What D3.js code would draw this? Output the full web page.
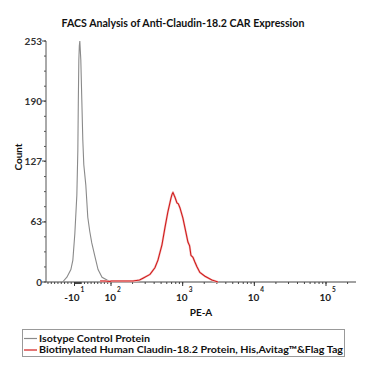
<!DOCTYPE html>
<html><head><meta charset="utf-8">
<script src="https://cdn.jsdelivr.net/npm/d3@7"></script>
<style>body{margin:0;background:#fff}svg{display:block}text{font-family:Lato,"Open Sans",sans-serif}</style>
</head><body>
<svg id="c" width="378" height="378"></svg>
<script>
// ---- data ----
const title = "FACS Analysis of Anti-Claudin-18.2 CAR Expression";
const xLabel = "PE-A";
const yLabel = "Count";
const yTicks = [0, 63, 127, 190, 253];
const xTickValues = [-10, 100, 1000, 10000, 100000];
const xTickBase = ["-10", "10", "10", "10", "10"];
const xTickExp = ["1", "2", "3", "4", "5"];
const seriesNames = ["Isotype Control Protein", "Biotinylated Human Claudin-18.2 Protein, His,Avitag\u2122&Flag Tag"];
const seriesColors = ["#8a8a8a", "#d01c1c"];
// isotype control histogram (PE-A value, count)
const isoPE =    [-46, -33, -21, -15, -9, -3, 0, 1.5, 3, 4.5, 6, 9, 12, 15, 18, 24, 30, 36, 42, 52, 61, 73, 88, 103];
const isoCount = [0, 5, 13, 23, 51, 91, 138, 191, 233, 248, 253, 233, 191, 149, 123, 102, 68, 53, 41, 26, 13, 5, 2, 0];
// Claudin-18.2 stained histogram
const cldPE =    [67, 82, 97, 100, 150, 203, 250, 279, 350, 410, 452, 514, 566, 623, 687, 710, 732, 760, 781, 832, 870, 915, 1008, 1110, 1184, 1250, 1304, 1391, 1480, 1582, 1738, 2048, 2560, 3110];
const cldCount = [1, 1, 0.5, 1, 1, 1, 2, 4, 8, 15, 23, 39, 57, 74, 88, 92, 94, 91, 89, 83, 82, 78, 67, 52, 42, 38, 28, 26, 21, 16, 10, 6, 2, 0];

// ---- layout ----
const svg = d3.select("#c");
const L = 46, R = 356, T = 41, B = 282;
const linMin = -96, linMax = 100, xMax = 262144;
const split = 111;
const xLinS = d3.scaleLinear().domain([linMin, linMax]).range([L, split]);
const xLogS = d3.scaleLog().domain([linMax, xMax]).range([split, R]);
const x = v => v < linMax ? xLinS(v) : xLogS(v);
const y = d3.scaleLinear().domain([0, 253]).range([B, T]);

// title
svg.append("text").attr("x", 183).attr("y", 27).attr("text-anchor", "middle")
  .attr("font-size", 10.6).attr("font-weight", "bold").attr("fill", "#111").text(title);

// y axis
const yAxis = svg.append("g").attr("transform", `translate(${L},0)`);
yAxis.append("line").attr("x1", 0).attr("x2", 0).attr("y1", T).attr("y2", B).attr("stroke", "#555").attr("stroke-width", 1);
const yMinor = d3.range(0, 17).map(i => i * 253 / 16);
yAxis.selectAll(".ym").data(yMinor).join("line")
  .attr("x1", -2).attr("x2", 0).attr("y1", d => y(d)).attr("y2", d => y(d)).attr("stroke", "#555");
yAxis.selectAll(".yM").data(yTicks).join("line")
  .attr("x1", -4).attr("x2", 0).attr("y1", d => y(d)).attr("y2", d => y(d)).attr("stroke", "#444");
yAxis.selectAll(".yl").data(yTicks).join("text")
  .attr("x", -4).attr("y", d => y(d) + 3.5).attr("text-anchor", "end")
  .attr("font-size", 10).attr("font-weight", "bold").attr("fill", "#333").text(d => d);

// x axis
const xAxis = svg.append("g");
xAxis.append("line").attr("x1", L).attr("x2", R).attr("y1", B).attr("y2", B).attr("stroke", "#444");
const minor = [];
for (let k = 1; k <= 9; k++) { minor.push(-k); minor.push(k); minor.push(k * 10); minor.push(-k * 10); }
for (let e = 2; e <= 5; e++) for (let k = 1; k <= 9; k++) { const v = k * Math.pow(10, e); if (v <= xMax) minor.push(v); }
xAxis.selectAll(".xm").data(minor.filter(v => v >= linMin && v <= xMax)).join("line")
  .attr("x1", d => x(d)).attr("x2", d => x(d)).attr("y1", B).attr("y2", B + 2).attr("stroke", "#444");
xAxis.selectAll(".xM").data(xTickValues).join("line")
  .attr("x1", d => x(d)).attr("x2", d => x(d)).attr("y1", B).attr("y2", B + 4).attr("stroke", "#333");
xAxis.selectAll(".xl").data(xTickValues).join("text")
  .attr("x", d => x(d) + 5).attr("y", 301).attr("text-anchor", "end")
  .attr("font-size", 10).attr("font-weight", "bold").attr("fill", "#222").text((d, i) => xTickBase[i]);
xAxis.selectAll(".xe").data(xTickValues).join("text")
  .attr("x", d => x(d) + 6).attr("y", 292).attr("text-anchor", "start")
  .attr("font-size", 6.5).attr("font-weight", "bold").attr("fill", "#222").text((d, i) => xTickExp[i]);

// axis labels
svg.append("text").attr("x", 201).attr("y", 316).attr("text-anchor", "middle")
  .attr("font-size", 10).attr("font-weight", "bold").attr("fill", "#111").text(xLabel);
svg.append("text").attr("transform", "translate(22,157) rotate(-90)").attr("text-anchor", "middle")
  .attr("font-size", 10).attr("font-weight", "bold").attr("fill", "#111").text(yLabel);

// curves
const line = d3.line().x(d => x(d[0])).y(d => y(d[1]));
svg.append("path").datum(d3.zip(isoPE, isoCount)).attr("d", line)
  .attr("fill", "none").attr("stroke", seriesColors[0]).attr("stroke-width", 1.1);
svg.append("path").datum(d3.zip(cldPE, cldCount)).attr("d", line)
  .attr("fill", "none").attr("stroke", "#f5c4c4").attr("stroke-width", 2.2).attr("stroke-linejoin", "round");
svg.append("path").datum(d3.zip(cldPE, cldCount)).attr("d", line)
  .attr("fill", "none").attr("stroke", seriesColors[1]).attr("stroke-width", 1.1);

// legend
const legendWidths = [111, 304];
const lg = svg.append("g");
lg.append("rect").attr("x", 22.5).attr("y", 329.5).attr("width", 322).attr("height", 27)
  .attr("fill", "none").attr("stroke", "#999");
seriesNames.forEach((n, i) => {
  const yy = 338.5 + i * 11.5;
  lg.append("line").attr("x1", 24).attr("x2", 37).attr("y1", yy).attr("y2", yy)
    .attr("stroke", seriesColors[i]).attr("stroke-width", 1.2);
  lg.append("text").attr("x", 39).attr("y", yy + 3.3).attr("font-size", 9.6)
    .attr("textLength", legendWidths[i]).attr("lengthAdjust", "spacingAndGlyphs")
    .attr("font-weight", "bold").attr("fill", "#111").text(n);
});
</script>
</body></html>
